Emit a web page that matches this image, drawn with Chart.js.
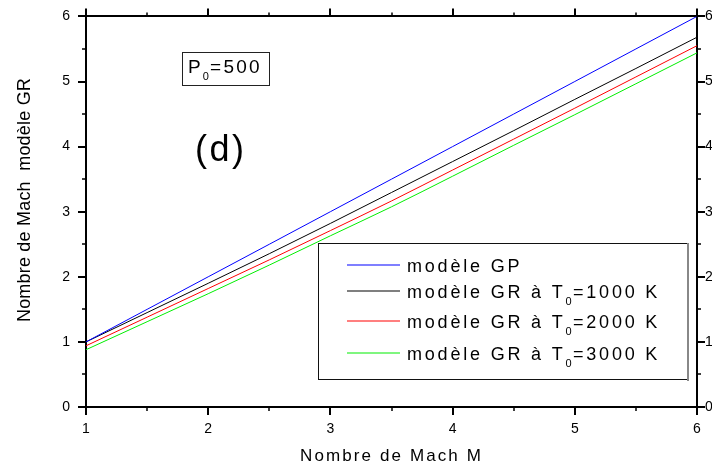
<!DOCTYPE html>
<html>
<head>
<meta charset="utf-8">
<script src="https://cdn.jsdelivr.net/npm/chart.js@4.4.1/dist/chart.umd.min.js"></script>
<style>
  html, body { margin: 0; padding: 0; background: #fff; }
  canvas { display: block; }
</style>
</head>
<body>
<canvas id="c" width="712" height="470"></canvas>
<script>
// Mach number M (abscissa)
const machNumbers = [1, 1.5, 2, 2.5, 3, 3.5, 4, 4.5, 5, 5.5, 6];
// Perfect-gas model
const gpModel = [1.00, 1.50, 2.00, 2.50, 3.00, 3.50, 4.00, 4.50, 5.00, 5.50, 6.00];
// High-temperature model, stagnation temperature 1000 K, 2000 K, 3000 K
const gr1000 = [1.00, 1.45, 1.90, 2.355, 2.82, 3.295, 3.77, 4.245, 4.725, 5.20, 5.68];
const gr2000 = [0.94, 1.38, 1.82, 2.26, 2.71, 3.165, 3.64, 4.115, 4.59, 5.07, 5.55];
const gr3000 = [0.88, 1.31, 1.74, 2.18, 2.63, 3.075, 3.545, 4.02, 4.49, 4.965, 5.44];

const xTickValues = [1, 2, 3, 4, 5, 6];
const yTickValues = [0, 1, 2, 3, 4, 5, 6];

// Legend entries: [text, subscript, text after subscript]
const legendParts = [
  ['modèle GP', '', ''],
  ['modèle GR à T', '0', '=1000 K'],
  ['modèle GR à T', '0', '=2000 K'],
  ['modèle GR à T', '0', '=3000 K']
];
const seriesColors = ['#0000ff', '#000000', '#ff0000', '#00ee00'];
const seriesData = [gpModel, gr1000, gr2000, gr3000];

const xTitle = 'Nombre de Mach M';
const yTitle = 'Nombre de Mach  modèle GR';
const pressureLabel = ['P', '0', '=500'];
const panelLabel = '(d)';

const FONT = '"Liberation Sans", Arial, Helvetica, sans-serif';

function textWidth(ctx, text, size, spacing) {
  ctx.font = size + 'px ' + FONT;
  ctx.letterSpacing = '0px';
  return ctx.measureText(text).width + spacing * text.length;
}
function drawText(ctx, text, x, y, size, spacing) {
  const w = textWidth(ctx, text, size, spacing);
  ctx.font = size + 'px ' + FONT;
  ctx.letterSpacing = spacing + 'px';
  ctx.fillText(text, x, y);
  ctx.letterSpacing = '0px';
  return x + w;
}
// text with a subscript in the middle
function drawRich(ctx, parts, x, y, size, subSize, spacing, subDrop) {
  let cx = drawText(ctx, parts[0], x, y, size, spacing);
  if (parts[1]) cx = drawText(ctx, parts[1], cx, y + subDrop, subSize, spacing * 0.5);
  if (parts[2]) cx = drawText(ctx, parts[2], cx, y, size, spacing);
  return cx;
}

const decorPlugin = {
  id: 'decor',
  afterDatasetsDraw(chart) {
    const ctx = chart.ctx;
    ctx.save();
    // legend box
    ctx.fillStyle = '#fff';
    ctx.fillRect(318, 243, 370, 137);
    ctx.strokeStyle = '#111';
    ctx.lineWidth = 1;
    ctx.strokeRect(318.5, 243.5, 369, 136);
    ctx.strokeStyle = '#888';
    ctx.lineWidth = 2;
    ctx.beginPath(); ctx.moveTo(688, 243); ctx.lineTo(688, 381); ctx.stroke();

    const rowLineY = [265, 291, 321, 353];
    const rowBase = [272, 298, 328, 360];
    ctx.textBaseline = 'alphabetic';
    ctx.textAlign = 'left';
    legendParts.forEach((p, i) => {
      ctx.save();
      ctx.strokeStyle = seriesColors[i];
      ctx.lineWidth = 1.2;
      ctx.beginPath();
      ctx.moveTo(347, rowLineY[i]);
      ctx.lineTo(400, rowLineY[i]);
      ctx.stroke();
      ctx.restore();
      ctx.fillStyle = '#000';
      drawRich(ctx, p, 407, rowBase[i], 18, 11, 2.8, 7);
    });
    ctx.restore();
  },
  afterDraw(chart) {
    const ctx = chart.ctx;
    const a = chart.chartArea;
    const xs = chart.scales.x, ys = chart.scales.y;
    ctx.save();
    ctx.strokeStyle = '#000';
    ctx.lineCap = 'butt';

    // major and minor tick marks on all four sides, outward
    const xMinor = xTickValues.slice(1).map((v, i) => (v + xTickValues[i]) / 2);
    const yMinor = yTickValues.slice(1).map((v, i) => (v + yTickValues[i]) / 2);
    const tickX = (vals, len, lw) => {
      ctx.lineWidth = lw;
      vals.forEach(v => {
        const px = Math.round(xs.getPixelForValue(v));
        ctx.beginPath();
        ctx.moveTo(px, a.bottom); ctx.lineTo(px, a.bottom + len);
        ctx.moveTo(px, a.top); ctx.lineTo(px, a.top - len);
        ctx.stroke();
      });
    };
    const tickY = (vals, len, lw) => {
      ctx.lineWidth = lw;
      vals.forEach(v => {
        const py = Math.round(ys.getPixelForValue(v));
        ctx.beginPath();
        ctx.moveTo(a.left, py); ctx.lineTo(a.left - len, py);
        ctx.moveTo(a.right, py); ctx.lineTo(a.right + len, py);
        ctx.stroke();
      });
    };
    tickX(xTickValues, 8, 2);
    tickX(xMinor, 4, 1.5);
    tickY(yTickValues, 8, 2);
    tickY(yMinor, 4, 1.5);

    ctx.fillStyle = '#000';
    ctx.textBaseline = 'alphabetic';
    ctx.textAlign = 'left';

    // x axis title
    const cx = (a.left + a.right) / 2;
    const wx = textWidth(ctx, xTitle, 17, 2.1);
    drawText(ctx, xTitle, cx - wx / 2, 461, 17, 2.1);

    // y axis title (rotated)
    ctx.save();
    ctx.translate(30, 200);
    ctx.rotate(-Math.PI / 2);
    const wy = textWidth(ctx, yTitle, 18, 0.2);
    drawText(ctx, yTitle, -wy / 2, 0, 18, 0.2);
    ctx.restore();

    // pressure box
    ctx.strokeStyle = '#222';
    ctx.lineWidth = 1;
    ctx.strokeRect(182.5, 52.5, 87, 33);
    drawRich(ctx, pressureLabel, 188, 73, 19, 11, 2.2, 7);

    // panel label
    drawText(ctx, panelLabel, 195, 161, 36, 2.5);
    ctx.restore();
  }
};

const ctx = document.getElementById('c').getContext('2d');
const axisFont = { family: FONT, size: 14 };
const frame = { display: true, color: '#000', width: 2 };

new Chart(ctx, {
  type: 'line',
  data: {
    datasets: seriesData.map((vals, i) => ({
      label: legendParts[i].join(''),
      data: machNumbers.map((m, k) => ({ x: m, y: vals[k] })),
      borderColor: seriesColors[i],
      borderWidth: 1,
      pointRadius: 0,
      fill: false,
      cubicInterpolationMode: 'monotone'
    }))
  },
  options: {
    responsive: false,
    animation: false,
    devicePixelRatio: 1,
    layout: { padding: 0 },
    plugins: { legend: { display: false }, tooltip: { enabled: false } },
    scales: {
      x: {
        type: 'linear', position: 'bottom', min: 1, max: 6,
        afterFit: s => { s.height = 63; },
        grid: { display: false }, border: frame,
        ticks: { stepSize: 1, font: axisFont, color: '#000', padding: 6, maxRotation: 0, autoSkip: false }
      },
      xTop: {
        type: 'linear', position: 'top', min: 1, max: 6,
        afterFit: s => { s.height = 15; },
        grid: { display: false }, border: frame,
        ticks: { display: false }
      },
      y: {
        type: 'linear', position: 'left', min: 0, max: 6,
        afterFit: s => { s.width = 86; },
        grid: { display: false }, border: frame,
        ticks: { stepSize: 1, font: axisFont, color: '#000', padding: 8 }
      },
      yRight: {
        type: 'linear', position: 'right', min: 0, max: 6,
        afterFit: s => { s.width = 15; },
        grid: { display: false }, border: frame,
        ticks: { stepSize: 1, font: axisFont, color: '#000', padding: 0 }
      }
    }
  },
  plugins: [decorPlugin]
});
</script>
</body>
</html>
